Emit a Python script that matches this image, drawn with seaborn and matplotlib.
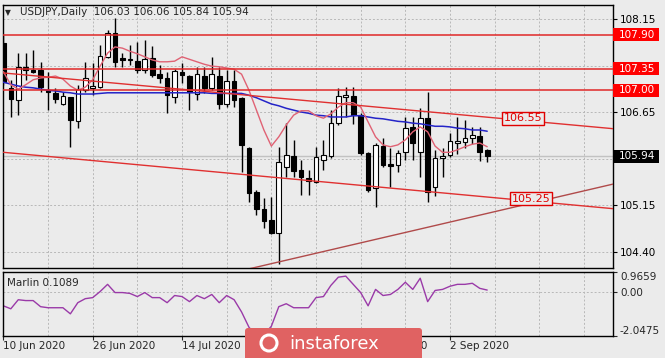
import pandas as pd
import matplotlib
matplotlib.use("Agg")
import matplotlib.pyplot as plt
import matplotlib.transforms as mtransforms
from matplotlib.patches import Rectangle, FancyBboxPatch, Circle
import seaborn as sns

# daily bars, 10 Jun 2020 .. 9 Sep 2020
dates = pd.bdate_range("2020-06-10", periods=66)

opens = [107.76, 107.04, 106.84, 107.38, 107.33, 107.33, 107.00, 106.96, 106.78, 106.89,
         106.50, 107.00, 107.04, 107.05, 107.54, 107.92, 107.52, 107.49, 107.47, 107.33,
         107.52, 107.26, 107.20, 106.89, 107.30, 107.23, 106.94, 107.23, 107.04, 107.23,
         106.78, 107.15, 106.88, 106.07, 105.36, 105.09, 104.91, 104.70, 105.76, 105.94,
         105.71, 105.59, 105.52, 105.88, 105.94, 106.47, 106.89, 106.91, 106.60, 105.99,
         105.42, 106.10, 105.81, 105.80, 106.00, 106.41, 106.00, 106.55, 105.44, 105.91,
         105.96, 106.15, 106.17, 106.23, 106.26, 106.03]
highs = [107.89, 107.17, 107.60, 107.60, 107.65, 107.46, 107.30, 107.04, 106.97, 106.90,
         107.09, 107.46, 107.44, 107.73, 107.97, 108.17, 107.60, 107.73, 107.78, 107.81,
         107.71, 107.41, 107.30, 107.34, 107.44, 107.25, 107.38, 107.38, 107.54, 107.38,
         107.33, 107.33, 106.89, 106.09, 105.39, 105.26, 105.28, 106.09, 106.47, 106.20,
         105.88, 105.71, 106.09, 106.20, 106.68, 107.04, 107.05, 107.05, 106.63, 106.00,
         106.15, 106.23, 106.07, 106.04, 106.57, 106.57, 106.71, 106.97, 106.04, 106.07,
         106.31, 106.57, 106.52, 106.41, 106.41, 106.06]
lows = [107.09, 106.57, 106.60, 107.17, 107.28, 106.97, 106.68, 106.80, 106.76, 106.09,
        106.39, 106.97, 106.92, 107.04, 107.52, 107.38, 107.38, 107.41, 107.28, 107.28,
        107.21, 107.12, 106.63, 106.80, 107.12, 106.68, 106.84, 106.96, 107.00, 106.70,
        106.73, 106.73, 105.68, 105.20, 104.99, 104.78, 104.69, 104.20, 105.60, 105.60,
        105.31, 105.31, 105.50, 105.71, 105.91, 106.44, 106.57, 106.46, 105.96, 105.36,
        105.12, 105.76, 105.44, 105.68, 105.88, 105.88, 105.60, 105.20, 105.30, 105.60,
        105.92, 105.97, 106.07, 106.13, 105.86, 105.84]
closes = [107.13, 106.86, 107.38, 107.33, 107.30, 107.05, 106.97, 106.86, 106.91, 106.52,
          107.02, 107.20, 107.07, 107.55, 107.92, 107.46, 107.49, 107.51, 107.33, 107.50,
          107.25, 107.20, 106.92, 107.31, 107.25, 106.97, 107.26, 107.04, 107.26, 106.78,
          107.15, 106.84, 106.12, 105.34, 105.09, 104.89, 104.70, 105.84, 105.96, 105.70,
          105.60, 105.54, 105.92, 105.96, 106.47, 106.91, 106.92, 106.60, 105.99, 105.39,
          106.12, 105.80, 105.78, 105.99, 106.39, 106.15, 106.55, 105.36, 105.91, 105.94,
          106.18, 106.18, 106.23, 106.28, 106.00, 105.94]

ma_fast = [107.30, 107.09, 107.02, 107.09, 107.17, 107.20, 107.21, 107.23, 107.18, 107.07,
           107.00, 107.05, 107.17, 107.39, 107.60, 107.70, 107.68, 107.63, 107.59, 107.54,
           107.49, 107.46, 107.46, 107.47, 107.54, 107.50, 107.46, 107.42, 107.39, 107.38,
           107.36, 107.34, 107.26, 107.00, 106.68, 106.36, 106.10, 106.25, 106.44, 106.60,
           106.67, 106.67, 106.59, 106.55, 106.62, 106.73, 106.80, 106.80, 106.73, 106.49,
           106.25, 106.12, 106.09, 106.12, 106.20, 106.33, 106.41, 106.33, 106.10, 106.00,
           106.00, 106.04, 106.09, 106.13, 106.15, 106.09]
ma_slow = [107.13, 107.10, 107.07, 107.05, 107.04, 107.02, 107.00, 106.99, 106.97, 106.96,
           106.94, 106.94, 106.94, 106.95, 106.96, 106.96, 106.96, 106.96, 106.96, 106.96,
           106.96, 106.96, 106.96, 106.96, 106.96, 106.96, 106.96, 106.96, 106.95, 106.95,
           106.95, 106.95, 106.95, 106.92, 106.88, 106.83, 106.78, 106.75, 106.71, 106.68,
           106.65, 106.63, 106.60, 106.59, 106.57, 106.57, 106.57, 106.59, 106.59, 106.57,
           106.55, 106.54, 106.52, 106.50, 106.49, 106.47, 106.46, 106.44, 106.42, 106.42,
           106.41, 106.39, 106.38, 106.36, 106.36, 106.34]

marlin = [-0.64, -0.78, -0.35, -0.39, -0.39, -0.68, -0.73, -0.73, -0.73, -1.02,
          -0.49, -0.30, -0.25, 0.04, 0.38, -0.01, -0.01, -0.05, -0.20, -0.01,
          -0.25, -0.25, -0.49, -0.15, -0.20, -0.44, -0.15, -0.30, -0.10, -0.49,
          -0.15, -0.35, -0.93, -1.66, -2.04, -2.00, -1.61, -0.68, -0.54, -0.73,
          -0.73, -0.73, -0.25, -0.20, 0.33, 0.72, 0.77, 0.38, -0.01, -0.64,
          0.14, -0.15, -0.10, 0.14, 0.48, 0.14, 0.67, -0.44, 0.09, 0.14,
          0.29, 0.38, 0.38, 0.43, 0.19, 0.1089]

levels = [107.90, 107.35, 107.00]
upper_x, upper_y = [0, 82], [107.28, 106.38]
lower_x, lower_y = [0, 82], [106.00, 105.09]
rising_x, rising_y = [33, 82], [104.12, 105.49]
notes = [(69.8, 106.55), (70.9, 105.25)]
price_ticks = [108.15, 107.40, 106.65, 105.90, 105.15, 104.40]
last_price = 105.94
marlin_ticks = [0.9659, 0.0, -2.0475]
date_ticks = [0, 12, 24, 36, 48, 60]

BG = "#ebebeb"
GRID = "#b8b8b8"
sns.set_style("white", {"axes.facecolor": BG, "figure.facecolor": BG})
plt.rcParams["font.family"] = ["DejaVu Sans"]
plt.rcParams["font.size"] = 7.5

fig = plt.figure(figsize=(6.65, 3.58), dpi=100)
ax = fig.add_axes([3 / 665, 1 - 268 / 358, 610 / 665, 263 / 358])
axi = fig.add_axes([3 / 665, 1 - 335.5 / 358, 610 / 665, 63.5 / 358])

x = list(range(len(opens)))
xlim = (-0.05, 81.9)

# --- main price panel ---
ax.set_xlim(*xlim)
ax.set_ylim(104.134, 108.376)
ax.set_xticks(range(0, 82, 6))
ax.set_yticks(price_ticks)
ax.set_yticklabels([f"{v:.2f}" for v in price_ticks])
ax.yaxis.tick_right()
ax.tick_params(axis="x", bottom=False, labelbottom=False)
ax.tick_params(axis="y", right=True, length=3, width=0.8, pad=2, labelsize=7.5, colors="black")
ax.grid(True, color=GRID, ls=(0, (2, 2)), lw=0.7)
ax.set_axisbelow(True)
ax.axhline(last_price, color="#c2c2c2", lw=1, zorder=1)

bottoms = [min(o, c) for o, c in zip(opens, closes)]
heights = [max(abs(c - o), 0.012) for o, c in zip(opens, closes)]
colors = ["white" if c >= o else "black" for o, c in zip(opens, closes)]
ax.vlines(x, lows, highs, color="black", lw=1, zorder=3)
ax.bar(x, heights, bottom=bottoms, width=0.62, color=colors, edgecolor="black", lw=0.8, zorder=4)

sns.lineplot(x=x, y=ma_slow, ax=ax, color="#2424c8", linewidth=1.1, zorder=5, legend=False)
sns.lineplot(x=x, y=ma_fast, ax=ax, color="#e06274", linewidth=1.0, zorder=5, legend=False)

for lv in levels:
    ax.axhline(lv, color="#e02828", lw=1.1, zorder=6)
ax.plot(upper_x, upper_y, color="#e03030", lw=1.0, zorder=6)
ax.plot(lower_x, lower_y, color="#e03030", lw=1.0, zorder=6)
ax.plot(rising_x, rising_y, color="#b04a4a", lw=1.0, zorder=6)

for nx, ny in notes:
    ax.text(nx, ny, f"{ny:.2f}", color="#e00000", ha="center", va="center", fontsize=8, zorder=7,
            bbox=dict(boxstyle="square,pad=0.12", fc=BG, ec="#e00000", lw=1))

trans = mtransforms.blended_transform_factory(ax.transAxes, ax.transData)
box_h = 13 / 62
for lv, fc in [(l, "#ff0000") for l in levels] + [(last_price, "black")]:
    ax.add_patch(Rectangle((1.0, lv - box_h / 2), 46 / 610, box_h, transform=trans,
                           fc=fc, ec="none", clip_on=False, zorder=8))
    ax.text(1.0 + 6 / 610, lv, f"{lv:.2f}", transform=trans, color="white", va="center",
            ha="left", fontsize=7.5, clip_on=False, zorder=9)

ax.text(0.008, 0.973, "\u25bc", transform=ax.transAxes, fontsize=5.5, va="center", ha="center")
ax.text(0.028, 0.973, "USDJPY,Daily  106.03 106.06 105.84 105.94", transform=ax.transAxes,
        fontsize=7.5, va="center", ha="left")

# --- Marlin panel ---
axi.set_xlim(*xlim)
axi.set_ylim(-2.0475, 0.9659)
sns.lineplot(x=x, y=marlin, ax=axi, color="#9a3aa8", linewidth=1.0, legend=False)
axi.axhline(0, color=GRID, ls=(0, (2, 2)), lw=0.7, zorder=0)
axi.set_xticks(date_ticks)
axi.set_xticks(range(0, 82, 6), minor=True)
axi.set_xticklabels([f"{dates[i].day} {dates[i].strftime('%b %Y')}" for i in date_ticks], ha="left")
axi.grid(True, which="both", axis="x", color=GRID, ls=(0, (2, 2)), lw=0.7)
axi.set_axisbelow(True)
axi.tick_params(axis="x", which="major", bottom=True, length=3, width=0.8, pad=1, labelsize=7.5)
axi.tick_params(axis="x", which="minor", bottom=False)
axi.yaxis.tick_right()
axi.set_yticks(marlin_ticks)
axi.set_yticklabels(["0.9659", "0.00", "-2.0475"])
axi.tick_params(axis="y", right=True, length=3, width=0.8, pad=2, labelsize=7.5)
ylabels = axi.get_yticklabels()
ylabels[0].set_va("top")
ylabels[2].set_va("bottom")
axi.text(0.0066, 0.83, "Marlin 0.1089", transform=axi.transAxes, fontsize=7.5, va="center", ha="left")
axi.set_xlabel("")
axi.set_ylabel("")
ax.set_xlabel("")
ax.set_ylabel("")

for a in (ax, axi):
    for sp in a.spines.values():
        sp.set_color("black")
        sp.set_linewidth(1)

# --- watermark ---
logo = fig.add_axes([245 / 665, 0, 177 / 665, 30 / 358])
logo.set_xlim(0, 177)
logo.set_ylim(0, 30)
logo.axis("off")
logo.add_patch(FancyBboxPatch((0, -6), 177, 36, boxstyle="round,pad=0,rounding_size=3",
                              fc="#e06262", ec="none"))
logo.add_patch(Circle((24, 15), 8, fc="none", ec="white", lw=2.2))
logo.text(44, 14, "instaforex", color="white", fontsize=13, va="center", ha="left")

fig.savefig("out.png", dpi=100, facecolor=BG)
